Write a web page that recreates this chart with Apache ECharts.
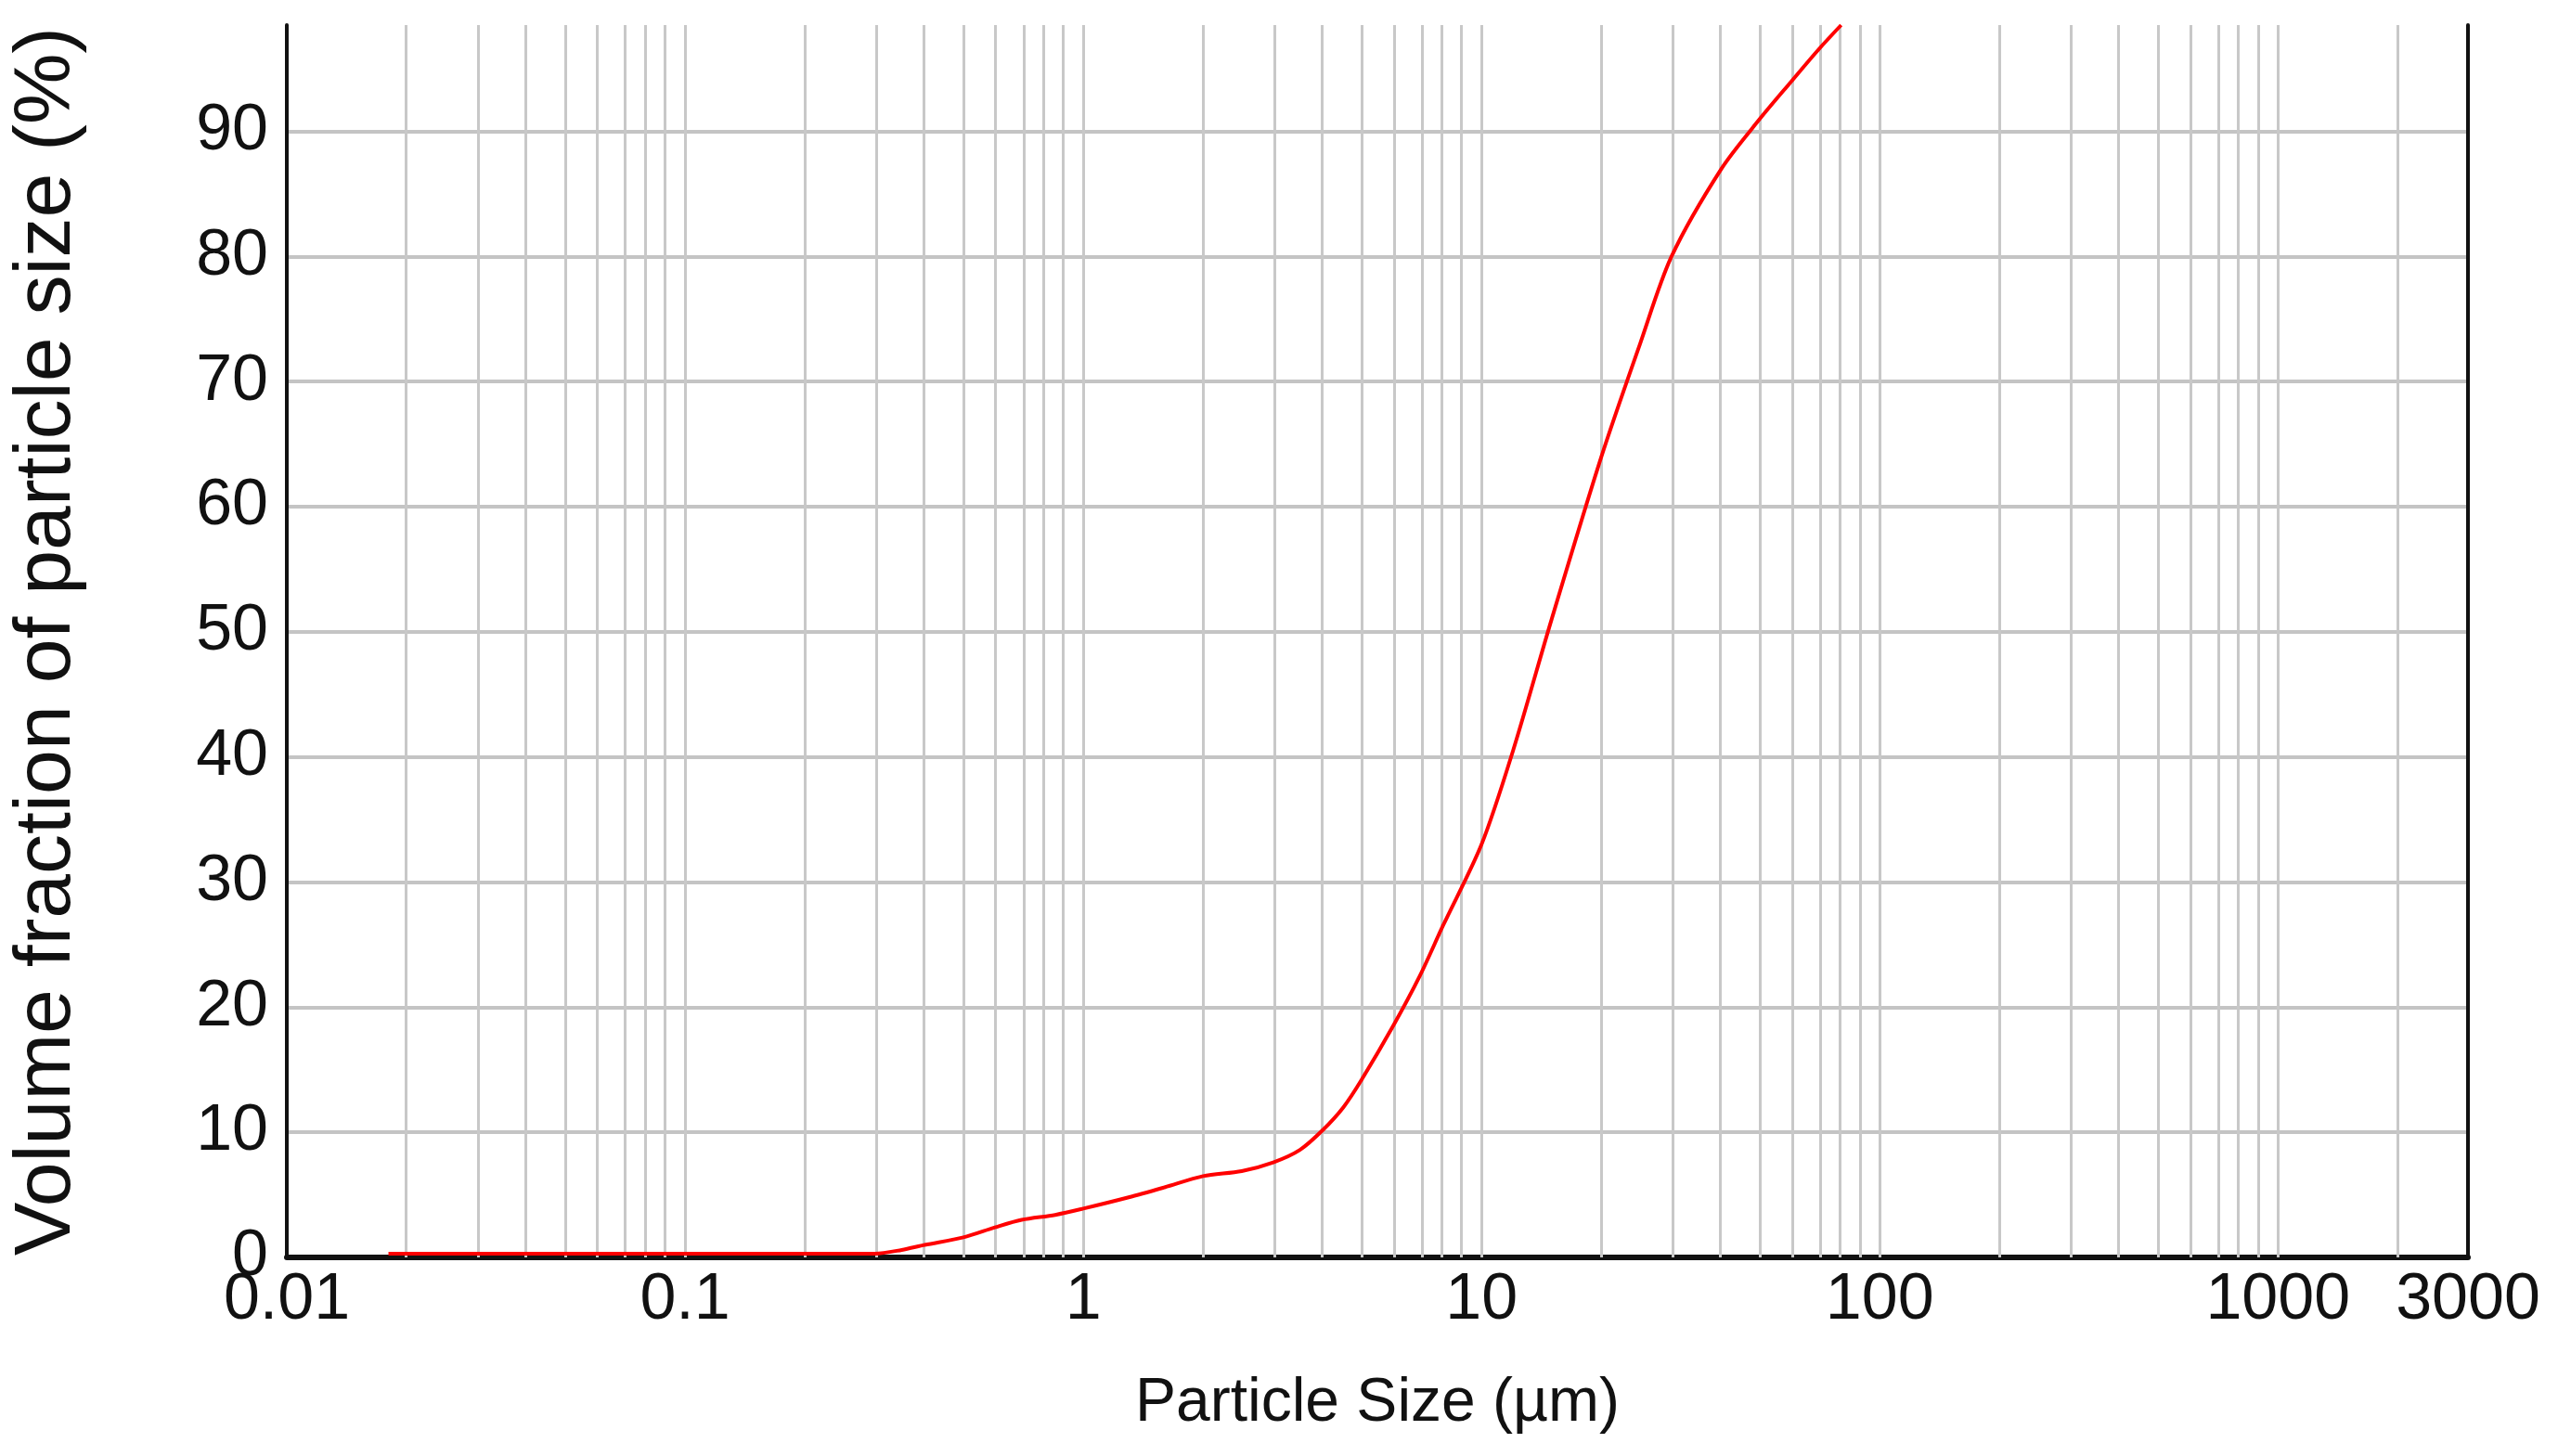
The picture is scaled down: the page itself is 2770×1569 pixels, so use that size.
<!DOCTYPE html>
<html lang="en">
<head>
    <meta charset="UTF-8">
    <title>Particle size distribution</title>
    <script src="https://cdn.jsdelivr.net/npm/echarts@6/dist/echarts.min.js"></script>
    <style>
        html, body { margin: 0; padding: 0; background: #fff; }
        #main { width: 2770px; height: 1569px; }
    </style>
</head>
<body>
<div id="main"></div>
<script type="text/javascript">
    // particle size (um) and cumulative volume fraction (%)
    var sizes = [0.018, 0.05, 0.1, 0.2, 0.3, 0.35, 0.4, 0.5, 0.6, 0.7, 0.85, 1, 1.3, 1.6, 2, 2.5, 3, 3.5, 4, 4.5, 5, 6, 7, 8, 10, 12, 15, 20, 25, 30, 40, 50, 60, 70, 80];
    var fractions = [0.3, 0.3, 0.3, 0.3, 0.3, 0.6, 1.0, 1.6, 2.4, 3.0, 3.4, 3.9, 4.8, 5.6, 6.5, 6.9, 7.6, 8.6, 10.2, 12.0, 14.2, 18.5, 22.5, 26.5, 33.0, 40.5, 51.0, 64.0, 73.0, 80.0, 87.0, 91.0, 94.0, 96.5, 98.5];
    var xTickLabels = [0.01, 0.1, 1, 10, 100, 1000, 3000];
    var yTicks = [0, 10, 20, 30, 40, 50, 60, 70, 80, 90];
    var gridSizes = [];
    for (var d = -2; d <= 3; d++) {
        for (var m = 1; m <= 9; m++) {
            var v = m * Math.pow(10, d);
            if (v > 0.01 && v < 3000) gridSizes.push(v);
        }
    }

    var log10 = function (v) { return Math.log(v) / Math.LN10; };
    var fmt = function (v) {
        var r = Math.pow(10, v);
        for (var i = 0; i < xTickLabels.length; i++) {
            if (Math.abs(r - xTickLabels[i]) / xTickLabels[i] < 0.01) return String(xTickLabels[i]);
        }
        return '';
    };

    var lineData = sizes.map(function (s, i) { return [log10(s), fractions[i]]; });
    var gridLines = gridSizes.map(function (s) { return { xAxis: log10(s) }; });
    var labelFont = "'Liberation Sans Narrow', 'Liberation Sans', Arial, sans-serif";

    var myChart = echarts.init(document.getElementById('main'));
    myChart.setOption({
        animation: false,
        backgroundColor: '#fff',
        grid: { left: 295, right: 111, top: 27, bottom: 214 },
        xAxis: {
            type: 'value',
            min: log10(0.01),
            max: log10(3000),
            name: 'Particle Size (µm)',
            nameLocation: 'middle',
            nameGap: 125,
            nameTextStyle: { fontFamily: labelFont, fontSize: 66, color: '#111' },
            axisLine: { onZero: false, lineStyle: { color: '#111', width: 6 } },
            axisTick: { show: false },
            splitLine: { show: false },
            axisLabel: {
                customValues: xTickLabels.map(log10),
                formatter: fmt,
                fontFamily: labelFont, fontSize: 70, color: '#111', margin: 12,
                showMinLabel: true, showMaxLabel: true
            }
        },
        yAxis: [{
            type: 'value',
            min: 0,
            max: 98.5,
            interval: 10,
            name: 'Volume fraction of particle size (%)',
            nameLocation: 'middle',
            nameGap: 215,
            nameTextStyle: { fontFamily: "'Liberation Sans', Arial, sans-serif", fontSize: 86, color: '#111' },
            axisLine: { show: true, onZero: false, lineStyle: { color: '#111', width: 4 } },
            axisTick: { show: false },
            splitLine: { showMaxLine: false, lineStyle: { color: '#c4c4c4', width: 4 } },
            axisLabel: {
                customValues: yTicks,
                fontFamily: labelFont, fontSize: 70, color: '#111', margin: 20
            }
        }, {
            type: 'value',
            position: 'right',
            min: 0,
            max: 98.5,
            axisLine: { show: true, onZero: false, lineStyle: { color: '#111', width: 4 } },
            axisTick: { show: false },
            axisLabel: { show: false },
            splitLine: { show: false }
        }],
        series: [{
            type: 'line',
            data: lineData,
            smooth: 0.3,
            showSymbol: false,
            lineStyle: { color: '#ff0000', width: 4 },
            z: 5,
            markLine: {
                silent: true,
                symbol: 'none',
                label: { show: false },
                lineStyle: { color: '#c8c8c8', width: 3, type: 'solid' },
                data: gridLines,
                z: 1
            }
        }]
    });
</script>
</body>
</html>
